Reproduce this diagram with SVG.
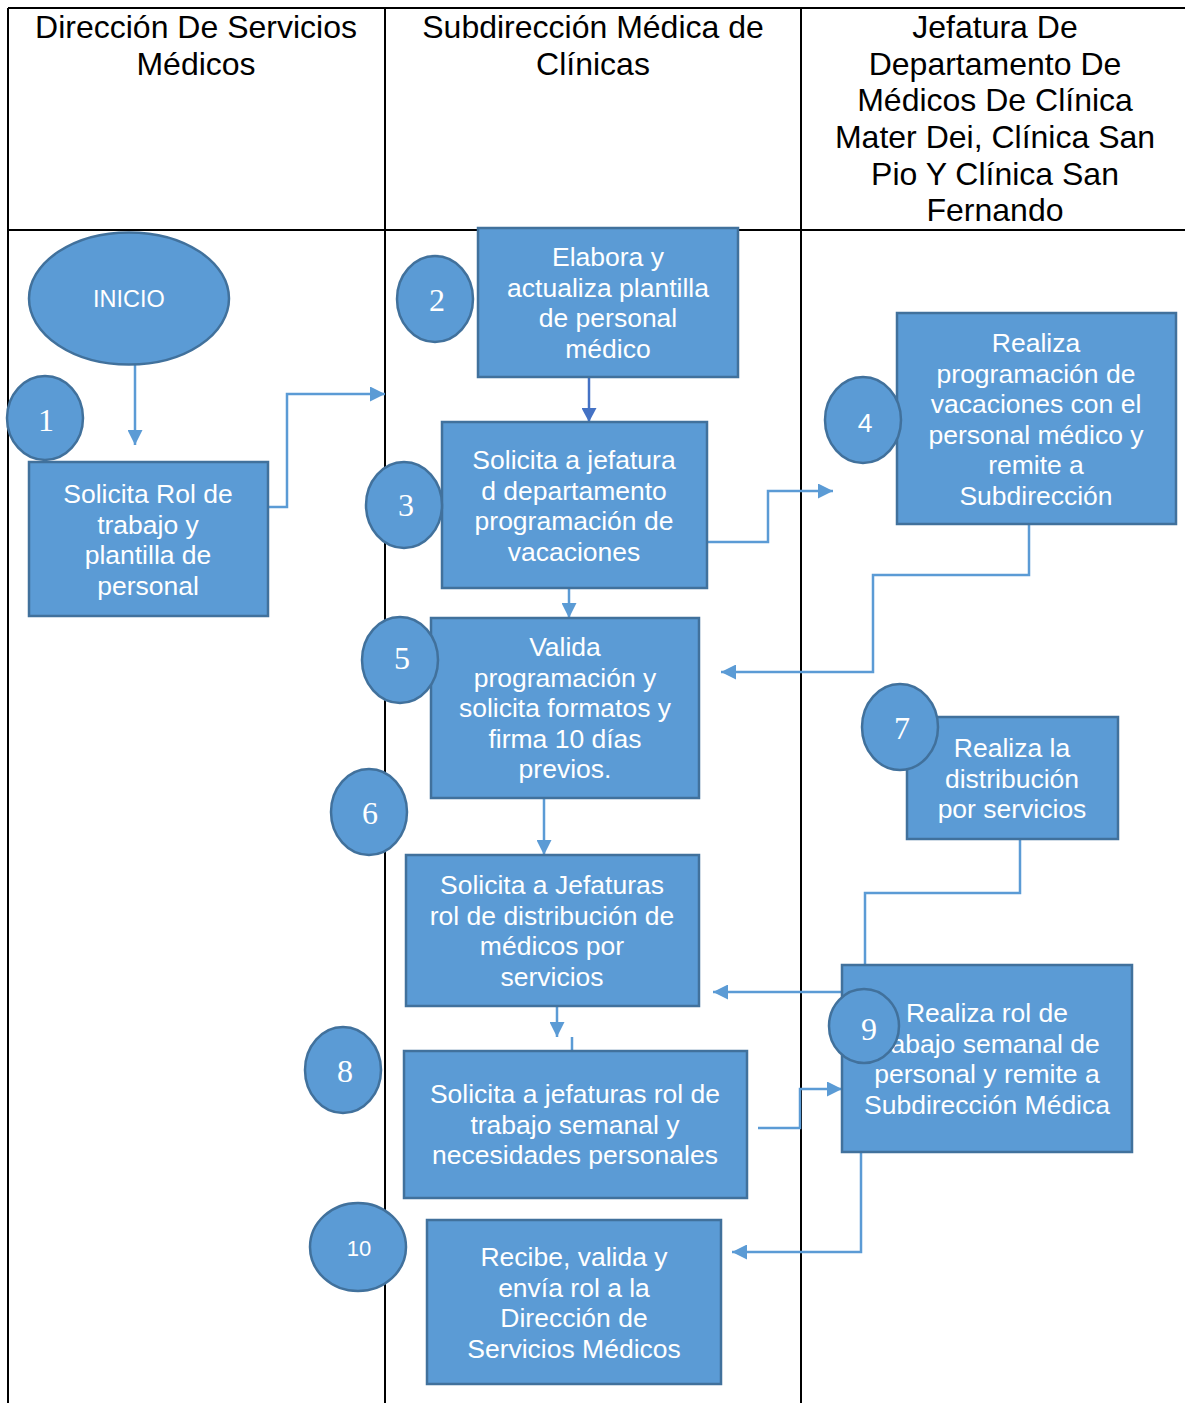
<svg xmlns="http://www.w3.org/2000/svg" width="1185" height="1403" viewBox="0 0 1185 1403">
<defs>
<style>
.lane{stroke:#000;stroke-width:2;fill:none}
.hdr{font-family:"Liberation Sans",Arial,sans-serif;font-size:32px;fill:#000;text-anchor:middle}
.box{fill:#5B9BD5;stroke:#41719C;stroke-width:2.5}
.num{fill:#5B9BD5;stroke:#41719C;stroke-width:2.5}
.t{font-family:"Liberation Sans",Arial,sans-serif;font-size:26.5px;fill:#fff;text-anchor:middle}
.n{font-family:"Liberation Serif","Times New Roman",serif;font-size:32px;fill:#fff;text-anchor:middle}
.ns{font-family:"Liberation Sans",Arial,sans-serif;fill:#fff;text-anchor:middle}
.c{stroke:#5B9BD5;stroke-width:2.5;fill:none}
</style>
<marker id="ah" markerUnits="userSpaceOnUse" markerWidth="15" markerHeight="15" refX="15" refY="7.5" orient="auto">
<path d="M0,0 L15,7.5 L0,15 z" fill="#5B9BD5"/>
</marker>
<marker id="ah2" markerUnits="userSpaceOnUse" markerWidth="15" markerHeight="15" refX="14" refY="7.5" orient="auto">
<path d="M0,0 L14,7.5 L0,15 z" fill="#4472C4"/>
</marker>
</defs>
<rect x="0" y="0" width="1185" height="1403" fill="#fff"/>
<g id="table">
<line class="lane" x1="8" y1="8" x2="1185" y2="8"/>
<line class="lane" x1="8" y1="230" x2="1185" y2="230"/>
<line class="lane" x1="8" y1="8" x2="8" y2="1403"/>
<line class="lane" x1="385" y1="8" x2="385" y2="1403"/>
<line class="lane" x1="801" y1="8" x2="801" y2="1403"/>
<text class="hdr" x="196" y="38">Dirección De Servicios</text>
<text class="hdr" x="196" y="75">Médicos</text>
<text class="hdr" x="593" y="38">Subdirección Médica de</text>
<text class="hdr" x="593" y="75">Clínicas</text>
<text class="hdr" x="995" y="38">Jefatura De</text>
<text class="hdr" x="995" y="75">Departamento De</text>
<text class="hdr" x="995" y="111">Médicos De Clínica</text>
<text class="hdr" x="995" y="148">Mater Dei, Clínica San</text>
<text class="hdr" x="995" y="185">Pio Y Clínica San</text>
<text class="hdr" x="995" y="221">Fernando</text>
</g>
<g id="connectors">
<path class="c" d="M135,365 L135,445" marker-end="url(#ah)"/>
<path class="c" d="M268,507 L287,507 L287,394 L385,394" marker-end="url(#ah)"/>
<path d="M589,377 L589,422" stroke="#4472C4" stroke-width="2.5" fill="none" marker-end="url(#ah2)"/>
<path class="c" d="M707,542 L768,542 L768,491 L833,491" marker-end="url(#ah)"/>
<path class="c" d="M1029,524 L1029,575 L873,575 L873,672 L721,672" marker-end="url(#ah)"/>
<path class="c" d="M569,588 L569,618" marker-end="url(#ah)"/>
<path class="c" d="M544,798 L544,855" marker-end="url(#ah)"/>
<path class="c" d="M1020,839 L1020,893 L865,893 L865,992 L713,992" marker-end="url(#ah)"/>
<path class="c" d="M557,1006 L557,1037" marker-end="url(#ah)"/>
<path class="c" d="M572,1037 L572,1051"/>
<path class="c" d="M758,1128 L800,1128 L800,1089 L842,1089" marker-end="url(#ah)"/>
<path class="c" d="M861,1152 L861,1252 L732,1252" marker-end="url(#ah)"/>
</g>
<g id="inicio">
<ellipse class="num" cx="129" cy="298.5" rx="100" ry="66"/>
<text class="ns" x="129" y="307" font-size="23.5">INICIO</text>
</g>
<g id="step1">
<rect class="box" x="29" y="462" width="239" height="154"/>
<text class="t" x="148" y="503">Solicita Rol de</text>
<text class="t" x="148" y="533.5">trabajo y</text>
<text class="t" x="148" y="564">plantilla de</text>
<text class="t" x="148" y="594.5">personal</text>
<ellipse class="num" cx="45" cy="418" rx="38" ry="42"/>
<text class="n" x="46" y="431">1</text>
</g>
<g id="step2">
<rect class="box" x="478" y="228" width="260" height="149"/>
<text class="t" x="608" y="266">Elabora y</text>
<text class="t" x="608" y="296.5">actualiza plantilla</text>
<text class="t" x="608" y="327">de personal</text>
<text class="t" x="608" y="357.5">médico</text>
<ellipse class="num" cx="435" cy="299" rx="38" ry="43"/>
<text class="n" x="437" y="311">2</text>
</g>
<g id="step3">
<rect class="box" x="442" y="422" width="265" height="166"/>
<text class="t" x="574" y="469">Solicita a jefatura</text>
<text class="t" x="574" y="499.5">d departamento</text>
<text class="t" x="574" y="530">programación de</text>
<text class="t" x="574" y="560.5">vacaciones</text>
<ellipse class="num" cx="404" cy="505" rx="38" ry="43"/>
<text class="n" x="406" y="516">3</text>
</g>
<g id="step4">
<rect class="box" x="897" y="313" width="279" height="211"/>
<text class="t" x="1036" y="352">Realiza</text>
<text class="t" x="1036" y="382.5">programación de</text>
<text class="t" x="1036" y="413">vacaciones con el</text>
<text class="t" x="1036" y="443.5">personal médico y</text>
<text class="t" x="1036" y="474">remite a</text>
<text class="t" x="1036" y="504.5">Subdirección</text>
<ellipse class="num" cx="863" cy="420" rx="38" ry="43"/>
<text class="ns" x="865" y="432" font-size="26.5">4</text>
</g>
<g id="step5">
<rect class="box" x="431" y="618" width="268" height="180"/>
<text class="t" x="565" y="656">Valida</text>
<text class="t" x="565" y="686.5">programación y</text>
<text class="t" x="565" y="717">solicita formatos y</text>
<text class="t" x="565" y="747.5">firma 10 días</text>
<text class="t" x="565" y="778">previos.</text>
<ellipse class="num" cx="400" cy="660" rx="38" ry="43"/>
<text class="n" x="402" y="669">5</text>
</g>
<g id="step6">
<rect class="box" x="406" y="855" width="293" height="151"/>
<text class="t" x="552" y="894">Solicita a Jefaturas</text>
<text class="t" x="552" y="924.5">rol de distribución de</text>
<text class="t" x="552" y="955">médicos por</text>
<text class="t" x="552" y="985.5">servicios</text>
<ellipse class="num" cx="369" cy="812" rx="38" ry="43"/>
<text class="n" x="370" y="824">6</text>
</g>
<g id="step7">
<rect class="box" x="907" y="717" width="211" height="122"/>
<text class="t" x="1012" y="757">Realiza la</text>
<text class="t" x="1012" y="787.5">distribución</text>
<text class="t" x="1012" y="818">por servicios</text>
<ellipse class="num" cx="900" cy="727" rx="38" ry="43"/>
<text class="n" x="902" y="739">7</text>
</g>
<g id="step8">
<rect class="box" x="404" y="1051" width="343" height="147"/>
<text class="t" x="575" y="1103">Solicita a jefaturas rol de</text>
<text class="t" x="575" y="1133.5">trabajo semanal y</text>
<text class="t" x="575" y="1164">necesidades personales</text>
<ellipse class="num" cx="343" cy="1070" rx="38" ry="43"/>
<text class="n" x="345" y="1082">8</text>
</g>
<g id="step9">
<rect class="box" x="842" y="965" width="290" height="187"/>
<text class="t" x="987" y="1022">Realiza rol de</text>
<text class="t" x="987" y="1052.5">trabajo semanal de</text>
<text class="t" x="987" y="1083">personal y remite a</text>
<text class="t" x="987" y="1113.5">Subdirección Médica</text>
<ellipse class="num" cx="864" cy="1026" rx="35" ry="37"/>
<text class="n" x="869" y="1040">9</text>
</g>
<g id="step10">
<rect class="box" x="427" y="1220" width="294" height="164"/>
<text class="t" x="574" y="1266">Recibe, valida y</text>
<text class="t" x="574" y="1296.5">envía rol a la</text>
<text class="t" x="574" y="1327">Dirección de</text>
<text class="t" x="574" y="1357.5">Servicios Médicos</text>
<ellipse class="num" cx="358" cy="1247" rx="48" ry="44"/>
<text class="ns" x="359" y="1256" font-size="22">10</text>
</g>
</svg>
